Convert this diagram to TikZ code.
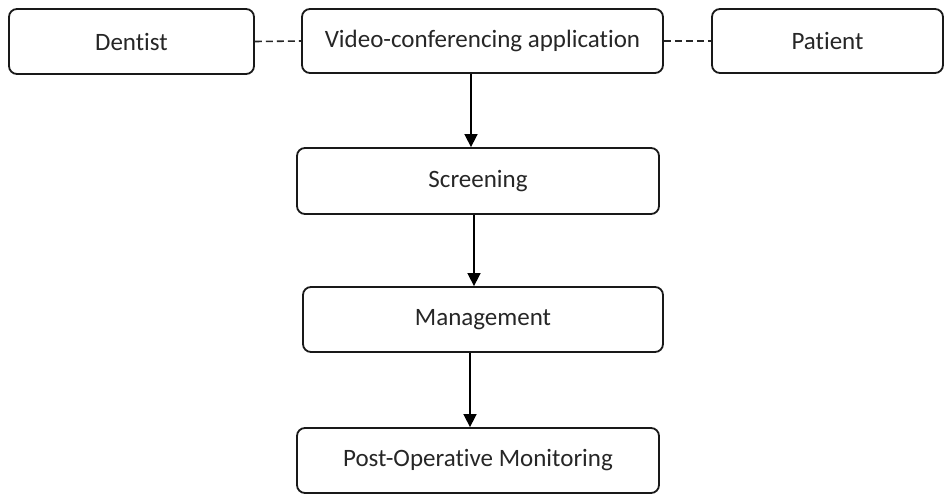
\documentclass[tikz,border=0pt]{standalone}
\usepackage{fontspec}
\setmainfont[Ligatures=NoCommon]{Carlito}
\usetikzlibrary{arrows.meta}
\begin{document}
\begin{tikzpicture}[x=1pt,y=-1pt,
  stagebox/.style={draw=black!90, line width=1.8pt, rounded corners=8pt,
    inner sep=0pt, font=\fontsize{25}{30}\selectfont, text=black!85},
  flow/.style={draw=black, line width=1.6pt,
    -{Triangle[length=13pt,width=13pt]}},
  link/.style={draw=black!85, line width=1.6pt, dash pattern=on 7pt off 4pt}]
\useasboundingbox (0,0) rectangle (945,494);
\node[stagebox, minimum width=245pt, minimum height=65pt] (dentist) at (131.5,41.5) {Dentist};
\node[stagebox, minimum width=361pt, minimum height=64pt] (video) at (482.5,41) {Video-conferencing application};
\node[stagebox, minimum width=231pt, minimum height=64pt] (patient) at (827.5,41) {Patient};
\node[stagebox, minimum width=362pt, minimum height=66pt] (screen) at (478,181) {Screening};
\node[stagebox, minimum width=360pt, minimum height=65pt] (manage) at (483,319.5) {Management};
\node[stagebox, minimum width=362pt, minimum height=65pt] (postop) at (478,460.5) {Post-Operative Monitoring};
\draw[link] (dentist.east) -- (video.west);
\draw[link] (video.east) -- (patient.west);
\draw[flow] (video.south -| 471,0) -- (screen.north -| 471,0);
\draw[flow] (screen.south -| 474,0) -- (manage.north -| 474,0);
\draw[flow] (manage.south -| 470,0) -- (postop.north -| 470,0);
\end{tikzpicture}
\end{document}
